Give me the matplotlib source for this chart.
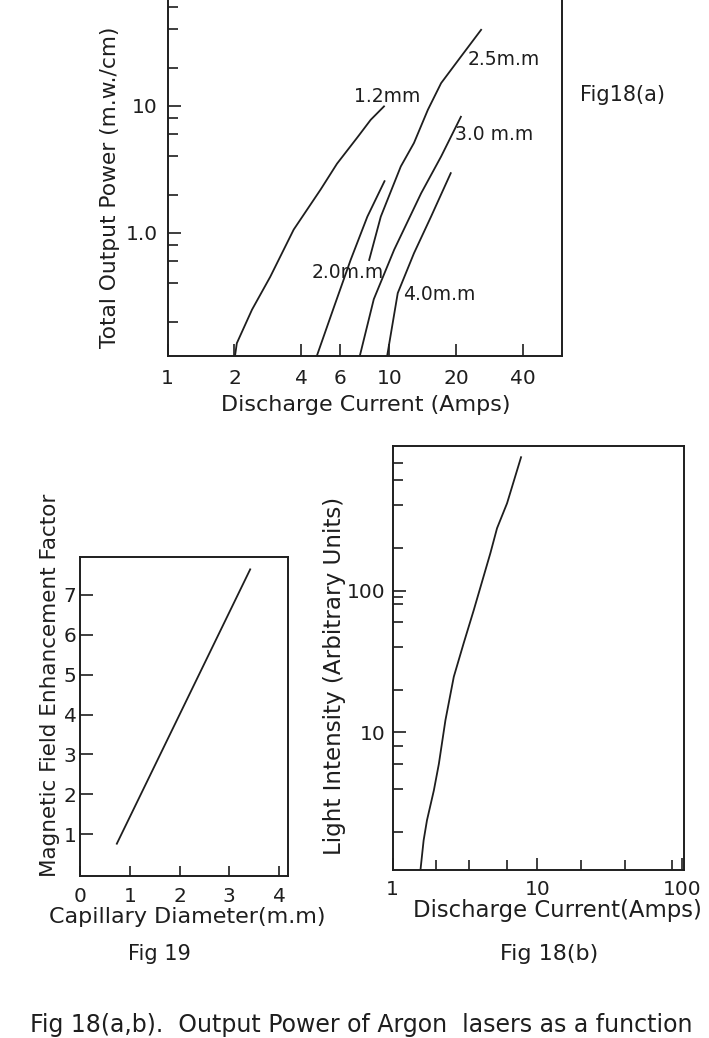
import matplotlib
matplotlib.use("Agg")
import matplotlib.pyplot as plt
from matplotlib.ticker import FixedLocator, FixedFormatter, NullFormatter

plt.rcParams['font.family'] = ['DejaVu Sans']
INK = '#1e1e1e'

# ── data ──
# Fig 18(a): total output power (mW/cm) vs discharge current (A), per capillary bore
i_12 = [2.0, 2.05, 2.40, 2.90, 3.70, 4.90, 5.80, 7.20, 8.23, 9.45]
p_12 = [0.1, 0.135, 0.248, 0.45, 1.06, 2.2, 3.5, 5.7, 7.76, 9.9]
i_20 = [4.64, 5.62, 6.68, 7.95, 9.50]
p_20 = [0.1, 0.26, 0.61, 1.34, 2.55]
i_25 = [8.1, 9.14, 9.8, 11.25, 12.9, 14.9, 17.1, 21.0, 25.9]
p_25 = [0.61, 1.34, 1.82, 3.33, 5.1, 9.3, 15.1, 24.4, 39.7]
i_30 = [7.28, 8.5, 10.5, 13.9, 17.1, 21.0]
p_30 = [0.1, 0.3, 0.735, 2.05, 3.99, 8.2]
i_40 = [9.7, 10.9, 12.9, 15.4, 18.9]
p_40 = [0.1, 0.335, 0.69, 1.34, 2.95]

curves_a = [(i_12, p_12), (i_20, p_20), (i_25, p_25), (i_30, p_30), (i_40, p_40)]
curve_labels = ['1.2mm', '2.0m.m', '2.5m.m', '3.0 m.m', '4.0m.m']
label_pos = [(9.8, 11.8), (6.5, 0.49), (32.6, 23.0), (29.7, 5.9), (16.7, 0.325)]

# Fig 18(b): light intensity (arb. units) vs discharge current (A)
i_b = [1.56, 1.64, 1.73, 1.93, 2.09, 2.32, 2.65, 3.10, 3.64, 4.74, 5.27, 6.18, 7.72]
li_b = [1.07, 1.73, 2.4, 3.9, 6.0, 12.2, 24.7, 42.6, 73, 184, 276, 414, 875]

# Fig 19: magnetic field enhancement factor vs capillary diameter (mm)
diam = [0.74, 3.42]
enh = [0.76, 7.64]

W, H = 709, 1038


def rect(l, t, r, b):
    return [l / W, 1 - b / H, (r - l) / W, (b - t) / H]


def fxy(x, y):
    return x / W, 1 - y / H


fig = plt.figure(figsize=(W / 100, H / 100), dpi=100)


def style(ax):
    for s in ax.spines.values():
        s.set_linewidth(1.4)
        s.set_color(INK)
    ax.tick_params(which='both', direction='in', color=INK, labelcolor=INK,
                   width=1.2, labelsize=14.5)
    ax.tick_params(which='major', length=9)
    ax.tick_params(which='minor', length=7)


# ── Fig 18(a) ──
ax = fig.add_axes(rect(167.7, -20, 562, 356))
for (x, y), lab, (lx, ly) in zip(curves_a, curve_labels, label_pos):
    ax.plot(x, y, color=INK, lw=1.3)
    ax.text(lx, ly, lab, fontsize=13.5, color=INK, ha='center', va='center')
ax.set_xscale('log')
ax.set_yscale('log')
ax.set_xlim(1, 60)
ax.set_ylim(0.107, 98)
style(ax)
ax.xaxis.set_major_locator(FixedLocator([1, 2, 4, 6, 10, 20, 40]))
ax.xaxis.set_major_formatter(FixedFormatter(['1', '2', '4', '6', '10', '20', '40']))
ax.xaxis.set_minor_locator(FixedLocator([]))
ax.yaxis.set_major_locator(FixedLocator([1, 10]))
ax.yaxis.set_major_formatter(FixedFormatter(['1.0', '10']))
ax.yaxis.set_minor_locator(FixedLocator([0.2, 0.4, 0.6, 0.8, 2, 4, 6, 8, 20, 40, 60]))
ax.yaxis.set_minor_formatter(NullFormatter())
ax.tick_params(axis='x', pad=9)
ax.tick_params(axis='y', pad=7)
ax.set_xlabel('Discharge Current (Amps)', fontsize=16, color=INK, va='center')
ax.xaxis.set_label_coords(*fxy(366, 405), transform=fig.transFigure)
ax.set_ylabel('Total Output Power (m.w./cm)', fontsize=15.7, color=INK, va='center')
ax.yaxis.set_label_coords(*fxy(110, 187), transform=fig.transFigure)
fig.text(*fxy(623, 95), 'Fig18(a)', fontsize=15, color=INK, ha='center', va='center')

# ── Fig 19 ──
ax = fig.add_axes(rect(80, 557, 288, 876))
ax.plot(diam, enh, color=INK, lw=1.3)
ax.set_xlim(0, 4.18)
ax.set_ylim(-0.05, 7.95)
style(ax)
ax.xaxis.set_major_locator(FixedLocator([0, 1, 2, 3, 4]))
ax.yaxis.set_major_locator(FixedLocator([1, 2, 3, 4, 5, 6, 7]))
ax.tick_params(axis='x', pad=8, length=7)
ax.tick_params(axis='y', pad=2.5)
ax.set_xlabel('Capillary Diameter(m.m)', fontsize=16, color=INK, va='center')
ax.xaxis.set_label_coords(*fxy(187, 917), transform=fig.transFigure)
ax.set_ylabel('Magnetic Field Enhancement Factor', fontsize=15.5, color=INK, va='center')
ax.yaxis.set_label_coords(*fxy(50, 685), transform=fig.transFigure)
fig.text(*fxy(159, 954), 'Fig 19', fontsize=15, color=INK, ha='center', va='center')

# ── Fig 18(b) ──
ax = fig.add_axes(rect(392.5, 446, 684, 870))
ax.plot(i_b, li_b, color=INK, lw=1.3)
ax.set_xscale('log')
ax.set_yscale('log')
ax.set_xlim(1, 103)
ax.set_ylim(1.07, 1050)
style(ax)
ax.xaxis.set_major_locator(FixedLocator([1, 10, 100]))
ax.xaxis.set_major_formatter(FixedFormatter(['1', '10', '100']))
ax.xaxis.set_minor_locator(FixedLocator([2, 3.4, 6.2, 20, 40, 85]))
ax.xaxis.set_minor_formatter(NullFormatter())
ax.yaxis.set_major_locator(FixedLocator([10, 100]))
ax.yaxis.set_major_formatter(FixedFormatter(['10', '100']))
ax.yaxis.set_minor_locator(FixedLocator([2, 4, 6, 8, 20, 40, 60, 80, 90, 200, 400, 600, 800]))
ax.yaxis.set_minor_formatter(NullFormatter())
ax.tick_params(axis='x', pad=7.5)
ax.tick_params(axis='y', pad=5)
ax.set_xlabel('Discharge Current(Amps)', fontsize=16.4, color=INK, va='center')
ax.xaxis.set_label_coords(*fxy(557, 910), transform=fig.transFigure)
ax.set_ylabel('Light Intensity (Arbitrary Units)', fontsize=16.6, color=INK, va='center')
ax.yaxis.set_label_coords(*fxy(335, 676), transform=fig.transFigure)
fig.text(*fxy(549, 954), 'Fig 18(b)', fontsize=16, color=INK, ha='center', va='center')

# caption
fig.text(*fxy(30, 1025), 'Fig 18(a,b).  Output Power of Argon  lasers as a function',
         fontsize=17, color=INK, ha='left', va='center')

fig.savefig('out.png', dpi=100)
